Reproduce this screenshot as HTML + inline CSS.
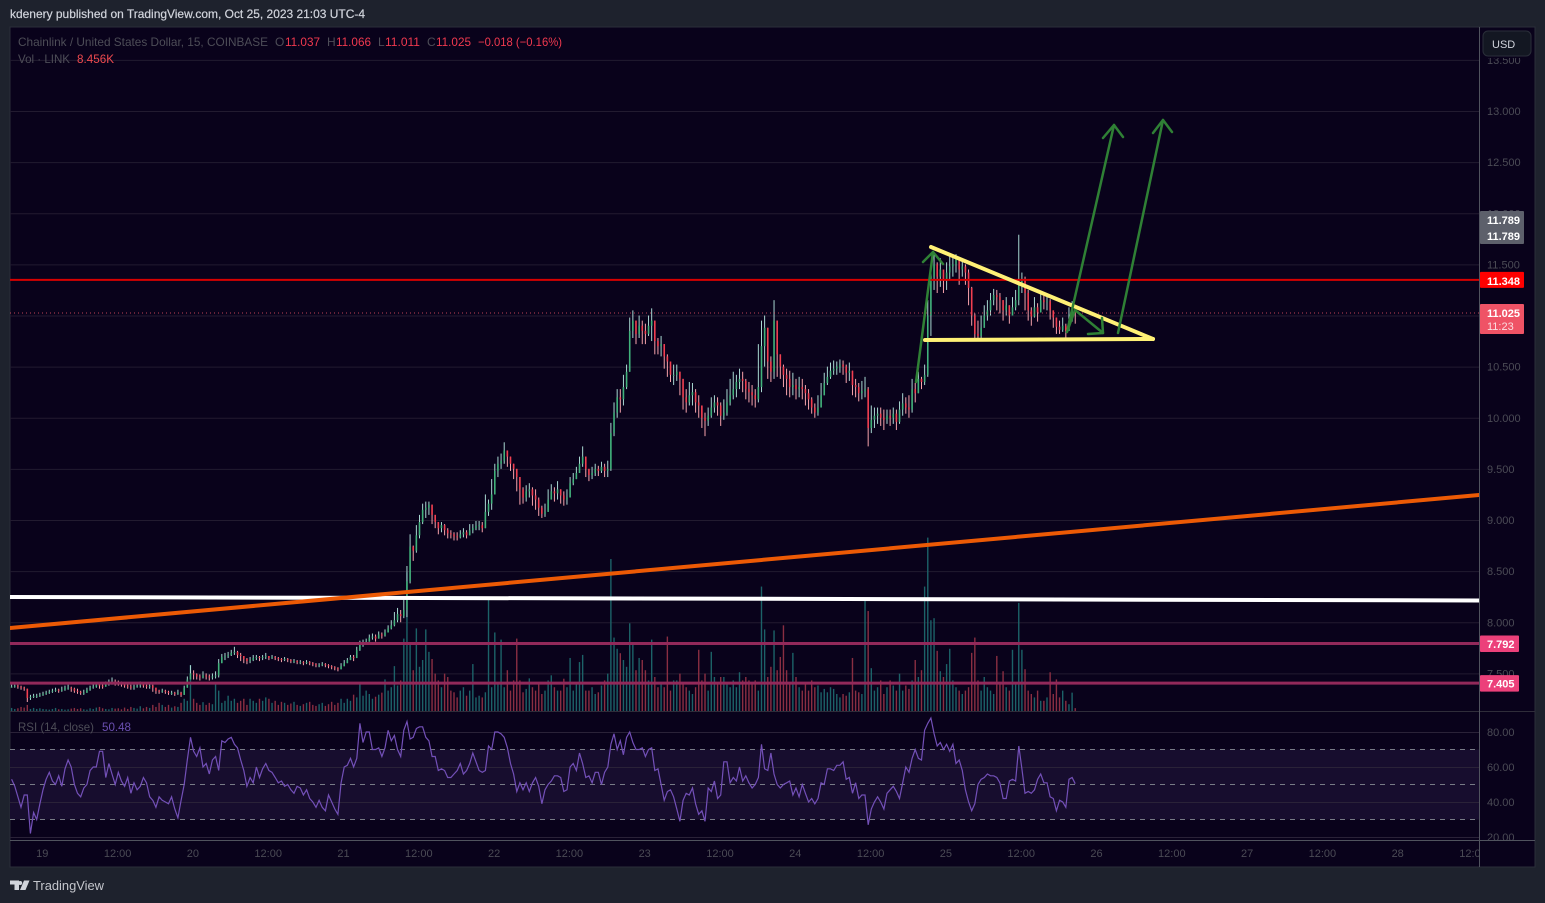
<!DOCTYPE html>
<html lang="en">
<head>
<meta charset="utf-8">
<title>Chainlink / United States Dollar chart</title>
<style>
html,body{margin:0;padding:0;background:#1e222d;width:1545px;height:903px;overflow:hidden}
svg{position:absolute;left:0;top:0;display:block;font-family:"Liberation Sans",sans-serif}
</style>
</head>
<body>
<svg id="chart" width="1545" height="903" viewBox="0 0 1545 903" xmlns="http://www.w3.org/2000/svg">
  <defs>
    <clipPath id="mainClip"><rect x="10" y="27" width="1469" height="684"/></clipPath>
    <clipPath id="rsiClip"><rect x="10" y="712" width="1469" height="128"/></clipPath>
    <clipPath id="timeClip"><rect x="10" y="841" width="1469" height="26"/></clipPath>
    <clipPath id="axisClip"><rect x="1480" y="27" width="55" height="813"/></clipPath>
  </defs>
  <rect x="0" y="0" width="1545" height="903" fill="#1e222d"/>
  <text x="10" y="18" font-size="12" fill="#d1d4dc" stroke="#d1d4dc" stroke-width="0.2" textLength="355" lengthAdjust="spacingAndGlyphs">kdenery published on TradingView.com, Oct 25, 2023 21:03 UTC-4</text>
  <rect x="10" y="27" width="1525" height="840" fill="#09021b" stroke="#2a2e39" stroke-width="1"/>
  <rect x="10" y="749.5" width="1469" height="70" fill="#170d2e"/>
  <g id="grid"></g>
  <g id="rsiGuides"></g>
  <g id="volumes" clip-path="url(#mainClip)"></g>
  <g id="candles" clip-path="url(#mainClip)"></g>
  <g id="levels" clip-path="url(#mainClip)"></g>
  <g clip-path="url(#mainClip)" fill="none" stroke-linecap="round" stroke-linejoin="round">
    <line x1="10" y1="597" x2="1479" y2="600.5" stroke="#ffffff" stroke-width="4"/>
    <line x1="10" y1="628" x2="1479" y2="495" stroke="#ec5a05" stroke-width="4"/>
    <polyline points="916,382 933,252" stroke="#2f8035" stroke-width="2.5"/>
    <polyline points="923,262 933,252 943,264" stroke="#2f8035" stroke-width="2.5"/>
    <line x1="931" y1="247" x2="1153" y2="339" stroke="#fff176" stroke-width="4"/>
    <line x1="925" y1="340" x2="1153" y2="339" stroke="#fff176" stroke-width="4"/>
    <polyline points="1067,332 1075,310 1103,333" stroke="#2f8035" stroke-width="2.5"/>
    <polyline points="1088,334 1103,333 1102,318" stroke="#2f8035" stroke-width="2.5"/>
    <line x1="1067" y1="332" x2="1114" y2="125" stroke="#2f8035" stroke-width="2.5"/>
    <polyline points="1103,138 1114,125 1123,137" stroke="#2f8035" stroke-width="2.5"/>
    <line x1="1118" y1="333" x2="1163" y2="120" stroke="#2f8035" stroke-width="2.5"/>
    <polyline points="1153,133 1163,120 1172,132" stroke="#2f8035" stroke-width="2.5"/>
  </g>
  <g id="rsiLine" clip-path="url(#rsiClip)"></g>
  <line x1="10" y1="711.5" x2="1535" y2="711.5" stroke="#2f2d3a"/>
  <line x1="10" y1="840.5" x2="1535" y2="840.5" stroke="#50535e"/>
  <line x1="1479.5" y1="27" x2="1479.5" y2="867" stroke="#50535e"/>
  <g id="priceAxis" clip-path="url(#axisClip)"></g>
  <g id="timeAxis" clip-path="url(#timeClip)"></g>
  <g id="priceTags"></g>
  <g>
    <rect x="1480" y="28" width="54" height="30" fill="#09021b"/>
    <rect x="1483" y="31" width="48" height="25" rx="5" fill="#131722" stroke="#2a2e39"/>
    <text x="1492" y="48" font-size="11" fill="#d1d4dc">USD</text>
  </g>
  <g font-size="12">
    <text x="18" y="46" fill="#4d4d57" textLength="250" lengthAdjust="spacingAndGlyphs">Chainlink / United States Dollar, 15, COINBASE</text>
    <text x="275" y="46" fill="#4d4d57">O</text>
    <text x="285" y="46" fill="#f0394f" textLength="35" lengthAdjust="spacingAndGlyphs">11.037</text>
    <text x="327" y="46" fill="#4d4d57">H</text>
    <text x="336" y="46" fill="#f0394f" textLength="35" lengthAdjust="spacingAndGlyphs">11.066</text>
    <text x="378" y="46" fill="#4d4d57">L</text>
    <text x="385" y="46" fill="#f0394f" textLength="35" lengthAdjust="spacingAndGlyphs">11.011</text>
    <text x="427" y="46" fill="#4d4d57">C</text>
    <text x="436" y="46" fill="#f0394f" textLength="35" lengthAdjust="spacingAndGlyphs">11.025</text>
    <text x="478" y="46" fill="#f0394f" textLength="84" lengthAdjust="spacingAndGlyphs">−0.018 (−0.16%)</text>
    <text x="18" y="63" fill="#4d4d57" textLength="52" lengthAdjust="spacingAndGlyphs">Vol · LINK</text>
    <text x="77" y="63" fill="#ef4a4f" textLength="37" lengthAdjust="spacingAndGlyphs">8.456K</text>
    <text x="18" y="731" fill="#4d4d57" textLength="76" lengthAdjust="spacingAndGlyphs">RSI (14, close)</text>
    <text x="102" y="731" fill="#6a4fb0" textLength="29" lengthAdjust="spacingAndGlyphs">50.48</text>
  </g>
  <g>
    <path fill="#d1d4dc" d="M10 880.5h9v9.5h-4.5v-5.5H10zM24 880.5h5.5l-4 9.5H20zM20.2 881a2 2 0 1 1 0 4 2 2 0 0 1 0-4z"/>
    <text x="33" y="890" font-size="13" fill="#c4c6cc" textLength="71" lengthAdjust="spacingAndGlyphs">TradingView</text>
  </g>
</svg>
<script>
// 30-minute samples. Line layout: lead-in bars, then one line per half day.
const closes = [
7.37,7.38,7.37,7.36,7.35,7.26,7.27,7.28,7.28,7.29,
7.30,7.31,7.32,7.33,7.34,7.33,7.34,7.36,7.36,7.35,7.33,7.32,7.31,7.31,7.34,7.36,7.37,7.39,7.38,7.37,7.40,7.41,7.42,7.41,
7.40,7.39,7.38,7.37,7.36,7.37,7.38,7.39,7.38,7.37,7.38,7.36,7.33,7.32,7.33,7.32,7.31,7.31,7.30,7.31,7.29,7.36,7.44,7.50,
7.49,7.47,7.46,7.48,7.47,7.46,7.47,7.48,7.60,7.66,7.67,7.68,7.70,7.71,7.68,7.67,7.64,7.62,7.63,7.65,7.66,7.65,7.66,7.67,
7.65,7.66,7.65,7.64,7.63,7.64,7.63,7.62,7.62,7.61,7.61,7.60,7.61,7.60,7.59,7.58,7.58,7.59,7.58,7.57,7.56,7.55,7.54,7.57,
7.60,7.63,7.66,7.65,7.73,7.78,7.80,7.81,7.85,7.86,7.84,7.88,7.87,7.90,7.94,7.97,8.02,8.08,8.06,8.12,8.40,8.74,8.70,8.85,
8.98,9.10,9.12,9.15,9.05,8.98,8.92,8.95,8.90,8.87,8.86,8.84,8.83,8.86,8.88,8.85,8.90,8.92,8.94,8.95,8.92,9.08,9.16,9.25,
9.48,9.55,9.58,9.68,9.62,9.55,9.50,9.42,9.30,9.22,9.28,9.30,9.24,9.20,9.12,9.06,9.08,9.20,9.28,9.26,9.30,9.24,9.20,9.22,
9.36,9.40,9.46,9.55,9.62,9.50,9.44,9.46,9.50,9.48,9.52,9.48,9.50,9.85,10.05,10.20,10.18,10.30,10.45,10.85,10.95,10.82,10.90,10.85,
10.82,10.90,10.95,10.75,10.70,10.72,10.60,10.55,10.42,10.42,10.45,10.38,10.20,10.15,10.22,10.25,10.15,10.12,10.00,9.97,10.02,10.10,10.15,10.12,
10.02,10.05,10.15,10.22,10.28,10.35,10.38,10.36,10.28,10.25,10.22,10.18,10.30,10.70,10.88,10.55,10.45,10.95,10.62,10.50,10.42,10.38,10.30,10.32,
10.28,10.30,10.28,10.24,10.18,10.10,10.05,10.10,10.22,10.34,10.40,10.46,10.48,10.50,10.52,10.50,10.44,10.46,10.32,10.30,10.24,10.26,10.28,9.90,
9.98,10.02,10.04,10.00,9.98,10.02,10.00,10.04,9.96,10.08,10.14,10.10,10.08,10.28,10.24,10.38,10.35,10.42,11.00,11.38,11.50,11.38,11.45,11.35,
11.42,11.48,11.50,11.56,11.45,11.48,11.42,11.27,11.00,10.82,10.80,10.88,11.00,11.05,11.15,11.20,11.18,11.15,11.05,11.10,11.00,11.08,11.15,11.30,
11.35,11.22,11.05,10.99,11.08,11.03,11.15,11.13,11.14,11.05,10.98,10.89,10.86,10.90,10.85,10.95,11.06,11.025];
const highs = [
7.39,7.39,7.39,7.38,7.37,7.35,7.29,7.30,7.30,7.31,
7.32,7.33,7.34,7.35,7.36,7.35,7.37,7.38,7.39,7.37,7.36,7.35,7.33,7.34,7.36,7.38,7.40,7.41,7.40,7.40,7.42,7.44,7.46,7.44,
7.43,7.42,7.41,7.40,7.39,7.39,7.41,7.42,7.40,7.39,7.41,7.39,7.36,7.34,7.35,7.34,7.33,7.33,7.32,7.34,7.32,7.38,7.47,7.58,
7.53,7.50,7.49,7.52,7.50,7.49,7.50,7.52,7.64,7.69,7.70,7.71,7.73,7.76,7.72,7.70,7.67,7.65,7.66,7.68,7.68,7.67,7.68,7.70,
7.67,7.68,7.67,7.66,7.65,7.66,7.65,7.64,7.64,7.63,7.63,7.62,7.63,7.62,7.61,7.60,7.60,7.61,7.60,7.59,7.58,7.57,7.56,7.60,
7.63,7.65,7.68,7.68,7.76,7.82,7.83,7.84,7.88,7.89,7.88,7.91,7.90,7.93,7.97,8.02,8.10,8.14,8.12,8.25,8.55,8.86,8.75,8.95,
9.05,9.16,9.18,9.18,9.14,9.04,8.98,8.98,8.96,8.92,8.90,8.88,8.88,8.90,8.92,8.90,8.96,8.96,8.99,8.99,8.98,9.25,9.20,9.40,
9.55,9.62,9.65,9.76,9.68,9.62,9.55,9.50,9.38,9.32,9.34,9.36,9.32,9.30,9.22,9.14,9.16,9.30,9.35,9.32,9.38,9.30,9.28,9.30,
9.42,9.46,9.52,9.62,9.72,9.58,9.50,9.52,9.55,9.53,9.57,9.55,9.58,9.95,10.15,10.28,10.28,10.42,10.52,10.98,11.05,10.92,11.00,10.95,
10.92,11.00,11.07,10.85,10.78,10.80,10.72,10.62,10.50,10.52,10.52,10.45,10.38,10.28,10.35,10.34,10.28,10.22,10.12,10.05,10.10,10.20,10.22,10.20,
10.15,10.18,10.28,10.38,10.45,10.42,10.48,10.45,10.38,10.35,10.32,10.28,10.72,10.95,11.00,10.80,10.60,11.15,10.85,10.62,10.52,10.48,10.46,10.44,
10.38,10.40,10.38,10.32,10.28,10.20,10.14,10.22,10.34,10.44,10.50,10.54,10.56,10.55,10.57,10.56,10.52,10.54,10.46,10.38,10.34,10.36,10.40,10.30,
10.12,10.10,10.10,10.10,10.08,10.08,10.08,10.10,10.08,10.16,10.24,10.20,10.22,10.38,10.34,10.45,10.40,10.52,11.15,11.48,11.62,11.52,11.56,11.45,
11.52,11.58,11.58,11.60,11.55,11.56,11.50,11.45,11.28,11.02,10.95,11.00,11.10,11.15,11.22,11.26,11.25,11.22,11.15,11.18,11.10,11.18,11.25,11.79,
11.42,11.38,11.25,11.08,11.18,11.12,11.22,11.20,11.20,11.16,11.05,10.98,10.95,10.98,10.92,11.08,11.14,11.06];
const lows = [
7.36,7.36,7.35,7.34,7.33,7.22,7.24,7.26,7.26,7.27,
7.28,7.29,7.30,7.31,7.32,7.31,7.32,7.33,7.34,7.32,7.31,7.30,7.29,7.29,7.31,7.33,7.35,7.36,7.35,7.35,7.37,7.38,7.39,7.38,
7.38,7.37,7.36,7.35,7.34,7.34,7.36,7.36,7.36,7.35,7.35,7.32,7.30,7.30,7.31,7.30,7.29,7.29,7.28,7.29,7.27,7.30,7.36,7.44,
7.44,7.44,7.43,7.45,7.44,7.43,7.44,7.45,7.46,7.60,7.63,7.65,7.67,7.68,7.65,7.62,7.60,7.59,7.60,7.62,7.63,7.62,7.63,7.64,
7.63,7.64,7.63,7.62,7.61,7.62,7.61,7.60,7.60,7.59,7.59,7.58,7.59,7.58,7.57,7.56,7.56,7.57,7.56,7.55,7.54,7.53,7.52,7.54,
7.57,7.60,7.63,7.62,7.65,7.72,7.76,7.78,7.82,7.83,7.81,7.84,7.84,7.86,7.90,7.93,7.96,8.00,8.00,8.04,8.05,8.38,8.60,8.68,
8.82,8.96,9.02,9.05,8.96,8.92,8.86,8.88,8.85,8.82,8.82,8.80,8.80,8.82,8.83,8.82,8.86,8.87,8.90,8.90,8.88,8.92,9.04,9.10,
9.25,9.42,9.50,9.55,9.52,9.48,9.40,9.28,9.15,9.16,9.18,9.22,9.14,9.10,9.04,9.02,9.03,9.08,9.20,9.18,9.20,9.16,9.14,9.15,
9.30,9.34,9.40,9.48,9.52,9.42,9.38,9.40,9.43,9.43,9.46,9.42,9.42,9.48,9.82,10.00,10.05,10.12,10.28,10.45,10.78,10.72,10.78,10.72,
10.72,10.80,10.75,10.62,10.62,10.60,10.48,10.40,10.35,10.32,10.36,10.22,10.08,10.05,10.12,10.12,10.05,10.00,9.90,9.82,9.92,10.00,10.05,10.02,
9.92,9.98,10.02,10.12,10.18,10.20,10.28,10.25,10.18,10.15,10.12,10.10,10.15,10.25,10.50,10.38,10.35,10.38,10.40,10.38,10.30,10.22,10.20,10.22,
10.18,10.20,10.18,10.12,10.08,10.04,10.00,10.02,10.10,10.22,10.32,10.38,10.42,10.42,10.44,10.42,10.34,10.36,10.22,10.20,10.16,10.18,10.20,9.72,
9.85,9.90,9.94,9.92,9.88,9.94,9.92,9.94,9.88,9.94,10.02,10.04,10.00,10.05,10.15,10.25,10.28,10.32,10.40,10.80,11.25,11.22,11.28,11.22,
11.25,11.35,11.38,11.42,11.30,11.38,11.30,11.10,10.90,10.78,10.76,10.78,10.90,10.95,11.00,11.10,11.05,11.02,10.95,11.00,10.92,11.00,11.05,11.10,
11.22,11.05,10.95,10.90,10.98,10.94,11.05,11.06,11.05,10.96,10.88,10.82,10.82,10.84,10.78,10.85,10.94,10.92];
const volumes = [
9,6,8,12,10,18,6,9,6,8,
6,5,4,6,9,5,6,4,5,7,9,6,8,5,4,8,6,10,12,8,6,5,9,7,
8,5,10,6,12,9,7,14,8,12,9,18,12,24,18,12,18,10,14,12,24,36,30,135,
36,24,18,26,18,24,20,81,60,24,30,45,30,36,24,30,36,18,36,30,24,36,30,40,
36,24,30,18,27,24,18,22,27,18,15,20,24,27,18,15,20,24,15,20,27,18,24,36,
24,36,30,48,40,78,45,60,50,36,42,48,54,93,60,70,132,75,90,213,408,195,120,243,
130,150,240,174,153,110,90,70,110,100,60,55,40,60,70,45,60,138,40,45,40,55,330,70,
231,80,210,70,120,60,90,213,90,55,65,96,70,60,78,50,60,90,105,70,60,60,95,70,
156,60,84,144,165,60,60,70,50,55,75,90,110,447,216,183,170,150,130,258,200,120,156,150,
120,90,210,100,70,85,70,219,60,90,90,110,80,70,60,50,70,180,90,110,60,174,100,80,
100,100,80,70,90,70,114,90,100,90,80,90,60,366,240,100,130,237,120,159,252,120,80,171,
100,70,60,80,60,90,70,75,55,65,55,70,65,50,40,50,45,55,156,60,55,50,327,294,
126,60,70,90,50,70,90,75,60,110,60,75,65,90,150,100,120,366,510,267,273,177,117,100,
138,183,90,70,60,50,60,70,171,216,90,60,100,70,60,50,162,80,117,70,60,180,80,318,
180,123,60,50,40,60,30,30,40,114,50,93,40,60,30,20,54,8.456];
const rsiValues = [
53,49,43,37,44,44,22,34,30,39,
47,53,57,52,50,55,49,59,64,60,50,45,43,48,50,58,60,60,69,69,54,62,56,50,
57,52,49,54,45,51,47,49,54,51,43,41,37,43,41,40,39,43,36,31,41,50,64,77,
69,66,71,60,62,56,64,66,58,75,74,76,77,73,71,64,58,49,54,51,60,54,59,62,
58,57,54,51,52,49,50,47,45,49,48,44,47,42,40,37,41,37,35,44,40,36,33,51,
60,61,65,60,65,85,74,80,80,70,70,71,66,71,81,75,78,70,66,81,86,76,77,82,
83,83,77,75,66,66,58,59,58,54,54,56,58,62,56,58,62,68,63,58,57,58,72,70,
80,80,79,77,71,62,56,46,51,47,51,46,51,54,49,39,47,50,52,55,55,54,46,47,
60,62,58,68,62,54,55,51,57,57,50,57,60,73,79,70,75,67,77,80,74,70,70,71,
66,70,71,58,59,50,41,46,47,43,36,29,41,45,44,48,39,33,35,29,48,46,52,42,
44,63,63,51,54,52,60,52,55,51,48,50,54,73,59,58,68,56,50,48,50,51,52,44,
48,43,50,45,40,42,39,42,51,50,59,59,58,61,61,63,53,54,45,51,42,44,44,27,
36,40,43,40,36,45,47,49,46,42,51,60,57,65,70,65,64,81,85,88,79,72,74,70,
73,69,73,62,64,58,47,40,35,39,50,53,54,56,55,55,54,51,42,42,52,53,52,72,
59,45,46,45,47,53,56,51,51,43,42,35,41,40,37,53,54,50.48];
const priceTicks = [13.5,13,12.5,12,11.5,11,10.5,10,9.5,9,8.5,8,7.5];
const rsiTicks = [80,60,40,20];
const rsiGuideLevels = [70,50,30];
const timeLabels = ['19','12:00','20','12:00','21','12:00','22','12:00','23','12:00','24','12:00','25','12:00','26','12:00','27','12:00','28','12:00'];
const redLevels = [11.348];
const pinkLevels = [7.792,7.405];
const lastClose = 11.025;
const countdownLabel = '11:23';
const crossLabels = ['11.789','11.789'];

const NS = 'http://www.w3.org/2000/svg';
function make(tag, parent, attrs){
  const el = document.createElementNS(NS, tag);
  for (const k in attrs) el.setAttribute(k, attrs[k]);
  parent.appendChild(el);
  return el;
}
const xBar = i => 43 + (i - 10) * 3.1375;
const xTime = k => 42.3 + k * 75.3;
const yPrice = p => 111 + (13 - p) * 102.25;
const yVol = v => 711 - v * 0.34;
const yRsi = r => 732 + (80 - r) * 1.75;

const gridG = document.getElementById('grid');
const axisG = document.getElementById('priceAxis');
priceTicks.forEach(p => {
  const gl = make('line', gridG, {x1:10, x2:1479, y1:yPrice(p)+.5, y2:yPrice(p)+.5, stroke:'#221b30'});
  
  
  const t = make('text', axisG, {x:1487, y:yPrice(p)+4, 'font-size':11, fill:'#4b4b55'});
  
  
  t.textContent = p.toFixed(3);
});
rsiTicks.forEach(r => {
  const gl = make('line', gridG, {x1:10, x2:1479, y1:yRsi(r)+.5, y2:yRsi(r)+.5, stroke:'#2a2238'});
  
  
  const t = make('text', axisG, {x:1487, y:yRsi(r)+4, 'font-size':11, fill:'#4b4b55'});
  
  
  t.textContent = r.toFixed(2);
});
const guideG = document.getElementById('rsiGuides');
rsiGuideLevels.forEach(r => {
  const gl = make('line', guideG, {x1:10, x2:1479, y1:yRsi(r), y2:yRsi(r), stroke:'#787b86', 'stroke-dasharray':'5 5'});
  
  
});

const timeG = document.getElementById('timeAxis');
timeLabels.forEach((label, k) => {
  const t = make('text', timeG, {x:xTime(k), y:857, 'font-size':11, fill:'#4b4b55', 'text-anchor':'middle'});
  
  
  t.textContent = label;
});

const volG = document.getElementById('volumes');
const candleG = document.getElementById('candles');
closes.forEach((c, i) => {
  const o = i ? closes[i-1] : c;
  const up = c >= o;
  const x = xBar(i);
  const vb = make('rect', volG, {x:x-.7, y:yVol(volumes[i]), width:1.4, height:711-yVol(volumes[i]), fill: up ? '#1c6268' : '#8a2e42'});
  
  
  const hi = Math.max(highs[i], c, o);
  const lo = Math.min(lows[i], c, o);
  const w = make('line', candleG, {x1:x, x2:x, y1:yPrice(hi), y2:yPrice(lo), stroke: up ? '#a9d8d2' : '#f7a3ab', 'stroke-width':1});
  
  
  const top = yPrice(Math.max(o, c));
  const h = Math.max(1, yPrice(Math.min(o, c)) - top);
  const b = make('rect', candleG, {x:x-.8, y:top, width:1.6, height:h, fill: up ? '#41b27b' : '#f23f50'});
  
  
});

const levelG = document.getElementById('levels');
const lastLine = make('line', levelG, {x1:10, x2:1479, y1:yPrice(lastClose), y2:yPrice(lastClose), stroke:'#ef5366', 'stroke-dasharray':'1 3', 'stroke-opacity':0.8});


redLevels.forEach(p => {
  const l = make('line', levelG, {x1:10, x2:1479, y1:yPrice(p), y2:yPrice(p), stroke:'#d80000', 'stroke-width':2});
  
  
});
pinkLevels.forEach(p => {
  const l = make('line', levelG, {x1:10, x2:1479, y1:yPrice(p), y2:yPrice(p), stroke:'#92295a', 'stroke-width':3});
  
  
});

const rsiPath = make('polyline', document.getElementById('rsiLine'), {
  points: rsiValues.map((r, i) => xBar(i).toFixed(1) + ',' + yRsi(r).toFixed(1)).join(' '),
  fill:'none', stroke:'#7350b8', 'stroke-width':1.2
});



const tagG = document.getElementById('priceTags');
function tagText(str, y, fill, weight){
  const t = make('text', tagG, {x:1487, y:y, 'font-size':11, 'font-weight':weight, fill:fill});
  
  
  t.textContent = str;
}
const crossBox = make('rect', tagG, {x:1480, y:211, width:44, height:33, rx:1, fill:'#5d606b'});


crossLabels.forEach((s, i) => tagText(s, 224 + i * 16, '#ffffff', 'bold'));
redLevels.forEach(p => {
  const b = make('rect', tagG, {x:1480, y:yPrice(p)-8, width:44, height:16, rx:1, fill:'#ff0000'});
  
  
  tagText(p.toFixed(3), yPrice(p)+5, '#ffffff', 'bold');
});
const lastBox = make('rect', tagG, {x:1480, y:yPrice(lastClose)-9, width:44, height:30, rx:1, fill:'#ef5366'});


tagText(lastClose.toFixed(3), yPrice(lastClose)+4, '#ffffff', 'bold');
tagText(countdownLabel, yPrice(lastClose)+17, '#fbdde0', 'normal');
pinkLevels.forEach(p => {
  const b = make('rect', tagG, {x:1480, y:yPrice(p)-8, width:39, height:16.5, rx:1, fill:'#ec407a'});
  
  
  tagText(p.toFixed(3), yPrice(p)+4.5, '#ffffff', 'bold');
});
</script>
</body>
</html>
